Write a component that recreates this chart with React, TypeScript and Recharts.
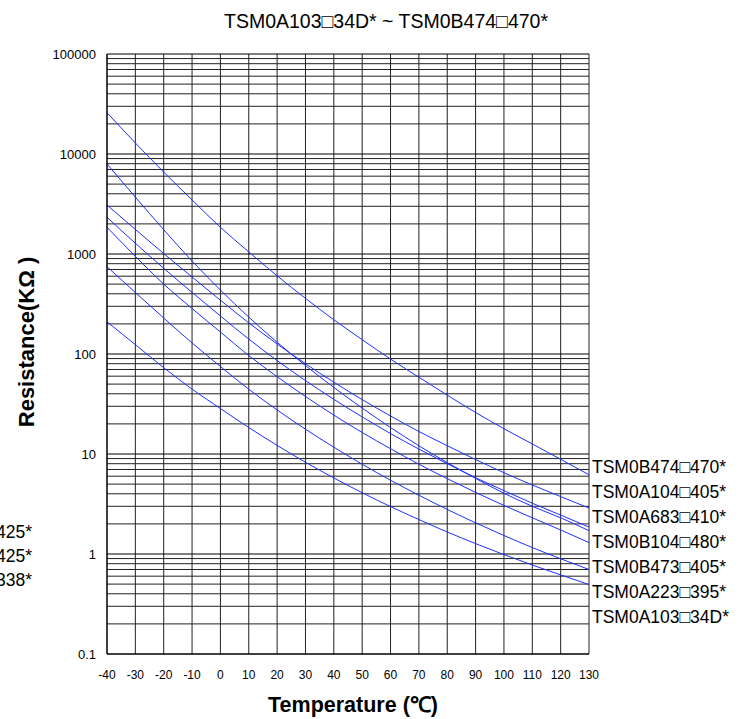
import React from "react";
import { LineChart, Line, XAxis, YAxis, ReferenceLine } from "recharts";

// temperature points (°C) read every 10 degrees
const temps = [-40, -30, -20, -10, 0, 10, 20, 30, 40, 50, 60, 70, 80, 90, 100, 110, 120, 130];

// resistance in KΩ
const b474 = [25900, 12900, 6600, 3470, 1850, 1050, 605, 360, 220, 139, 89, 58.5, 38.8, 26, 17.9, 12.6, 8.85, 6.2];
const a104 = [3090, 1760, 1010, 589, 345, 205, 126, 80, 52.2, 35, 24, 16.8, 12.1, 8.8, 6.5, 4.9, 3.75, 2.88];
const a683 = [2330, 1280, 720, 413, 240, 141, 86, 54.2, 35.2, 23.5, 16, 11.2, 8, 5.8, 4.3, 3.22, 2.45, 1.86];
const b104 = [7940, 3700, 1750, 850, 436, 234, 131, 76.7, 46.3, 28.8, 18.4, 12.1, 8.2, 5.7, 4.05, 3.0, 2.3, 1.71];
const b473 = [1850, 948, 500, 285, 166, 96.5, 59.3, 37.6, 24.5, 16.4, 11.3, 7.9, 5.67, 4.13, 3.06, 2.3, 1.74, 1.3];
const a223 = [747, 412, 229, 129, 75, 44.4, 27.6, 17.7, 11.7, 7.9, 5.47, 3.87, 2.79, 2.05, 1.53, 1.16, 0.896, 0.7];
const a103 = [210, 124, 73, 44.5, 28.5, 18.4, 12.2, 8.27, 5.76, 4.1, 2.98, 2.21, 1.66, 1.27, 0.987, 0.776, 0.618, 0.495];

const seriesKeys = ["b474", "a104", "a683", "b104", "b473", "a223", "a103"];
const seriesValues = [b474, a104, a683, b104, b473, a223, a103];

const legendLabels = [
  "TSM0B474\u25A1470*",
  "TSM0A104\u25A1405*",
  "TSM0A683\u25A1410*",
  "TSM0B104\u25A1480*",
  "TSM0B473\u25A1405*",
  "TSM0A223\u25A1395*",
  "TSM0A103\u25A134D*",
];
const cutLabels = ["425*", "425*", "338*"];

const yTicks = [0.1, 1, 10, 100, 1000, 10000, 100000];
const minorSteps = [2, 3, 4, 5, 6, 7, 8, 9];

const data = temps.map((t, i) => {
  const row: Record<string, number> = { t };
  seriesKeys.forEach((k, j) => {
    row[k] = seriesValues[j][i];
  });
  return row;
});

const gridValues: number[] = [];
yTicks.slice(0, -1).forEach((d) => minorSteps.forEach((m) => gridValues.push(+(d * m).toPrecision(3))));

const font = "'Liberation Sans', Arial, sans-serif";
const gridColor = "#222";

export default function App() {
  return (
    <div style={{ position: "absolute", left: 0, top: 0, width: 748, height: 719, background: "#fff", fontFamily: font }}>
      <LineChart
        width={748}
        height={719}
        data={data}
        margin={{ top: 54, right: 159, bottom: 0, left: 0 }}
      >
        <XAxis
          dataKey="t"
          type="number"
          domain={[-40, 130]}
          ticks={temps}
          interval={0}
          tickLine={false}
          tickSize={0}
          tickMargin={16}
          height={65}
          axisLine={{ stroke: "#000", strokeWidth: 1.5 }}
          tick={{ fill: "#000", fontSize: 12, fontFamily: font }}
        />
        <YAxis
          scale="log"
          type="number"
          domain={[0.1, 100000]}
          ticks={yTicks}
          interval={0}
          allowDataOverflow
          width={107}
          tickLine={false}
          tickSize={0}
          tickMargin={11}
          axisLine={{ stroke: "#000", strokeWidth: 1.5 }}
          tick={{ fill: "#000", fontSize: 13, fontFamily: font }}
          tickFormatter={(v: number) => String(v)}
        />
        {temps.slice(1).map((t) => (
          <ReferenceLine key={"v" + t} x={t} stroke={gridColor} strokeWidth={1} />
        ))}
        {yTicks.slice(1).map((v) => (
          <ReferenceLine key={"d" + v} y={v} stroke="#000" strokeWidth={1.2} />
        ))}
        {gridValues.map((v) => (
          <ReferenceLine key={"m" + v} y={v} stroke={gridColor} strokeWidth={1} />
        ))}
        {seriesKeys.map((k) => (
          <Line
            key={k}
            dataKey={k}
            type="monotone"
            stroke="#1f2fff"
            strokeWidth={1}
            dot={false}
            isAnimationActive={false}
          />
        ))}
      </LineChart>
      <svg
        width={748}
        height={719}
        style={{ position: "absolute", left: 0, top: 0, pointerEvents: "none" }}
        fontFamily={font}
      >
        <text x={386} y={28} textAnchor="middle" fontSize={19.5} fill="#000">
          TSM0A103{"\u25A1"}34D* ~ TSM0B474{"\u25A1"}470*
        </text>
        <text
          x={34}
          y={342}
          transform="rotate(-90, 34, 342)"
          textAnchor="middle"
          fontSize={22}
          fontWeight="bold"
          fill="#000"
        >
          Resistance(KΩ )
        </text>
        <text x={353} y={712} textAnchor="middle" fontSize={21.5} fontWeight="bold" fill="#000">
          Temperature (℃)
        </text>
        {legendLabels.map((s, i) => (
          <text key={s} x={592} y={473 + i * 25} fontSize={17.5} fill="#000">
            {s}
          </text>
        ))}
        {cutLabels.map((s, i) => (
          <text key={i} x={32} y={538 + i * 24} textAnchor="end" fontSize={17.5} fill="#000">
            {s}
          </text>
        ))}
      </svg>
    </div>
  );
}
